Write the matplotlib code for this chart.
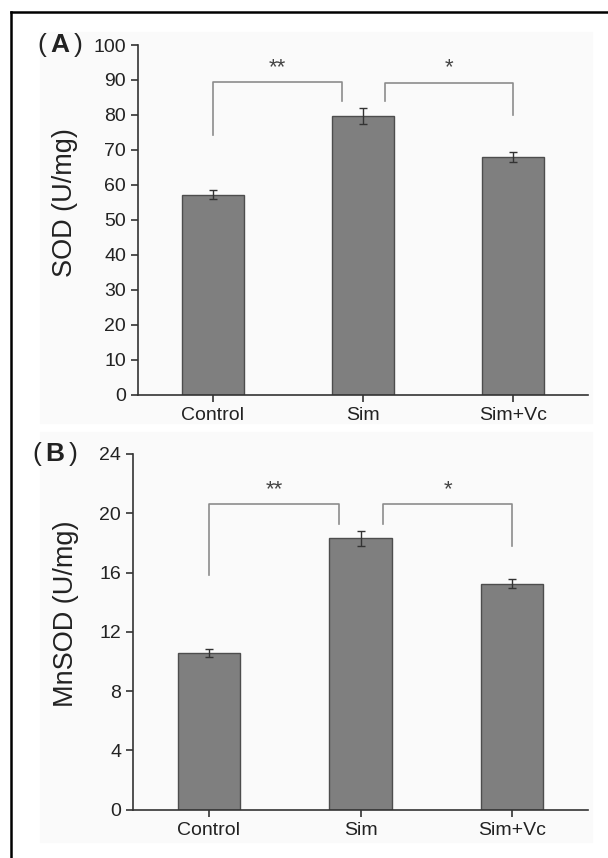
import matplotlib
matplotlib.use("Agg")
import matplotlib.pyplot as plt
from matplotlib.patches import Rectangle
from matplotlib.lines import Line2D

groups = ["Control", "Sim", "Sim+Vc"]

sod_mean = [57.2, 79.7, 67.9]
sod_err = [1.2, 2.2, 1.4]

mnsod_mean = [10.55, 18.3, 15.25]
mnsod_err = [0.26, 0.48, 0.29]

# significance brackets: (left group, right group, left foot, right foot, top, label)
sod_sig = [(0, 1, 74.3, 83.9, 89.4, "**"), (1, 2, 83.9, 80.0, 89.2, "*")]
mnsod_sig = [(0, 1, 15.8, 19.3, 20.6, "**"), (1, 2, 19.3, 17.8, 20.6, "*")]

plt.rcParams['font.family'] = ['Liberation Sans', 'DejaVu Sans']
plt.rcParams['mathtext.fontset'] = 'custom'
plt.rcParams['mathtext.rm'] = 'Liberation Sans'
plt.rcParams['mathtext.bf'] = 'Liberation Sans:bold'

W, H = 608, 858
fig = plt.figure(figsize=(W / 100, H / 100), dpi=100)

# faint panel backgrounds and the cropped frame
fig.patches.append(Rectangle((40 / W, 1 - 423 / H), 552 / W, 391 / H,
                             transform=fig.transFigure, color='#fafafa', zorder=-5))
fig.patches.append(Rectangle((40 / W, 1 - 842 / H), 552 / W, 410 / H,
                             transform=fig.transFigure, color='#fafafa', zorder=-5))
fig.lines.append(Line2D([10.5 / W, 1], [1 - 12 / H, 1 - 12 / H],
                        transform=fig.transFigure, color='black', lw=1.8))
fig.lines.append(Line2D([10.5 / W, 10.5 / W], [0, 1 - 12 / H],
                        transform=fig.transFigure, color='black', lw=1.8))

ax1 = fig.add_axes([137.7 / W, 1 - 394.5 / H, 450.3 / W, 349.5 / H])
ax2 = fig.add_axes([133 / W, 1 - 809.5 / H, 455 / W, 355.5 / H])


def draw_panel(ax, means, errs, sig, ymax, step, ylabel, tag, star_off, label_x, tag_x):
    ax.set_facecolor('none')
    x = range(len(groups))
    ax.bar(x, means, width=0.41, color='#7f7f7f', edgecolor='#4d4d4d', linewidth=1, zorder=2)
    ax.errorbar(x, means, yerr=errs, fmt='none', ecolor='#333333', elinewidth=1,
                capsize=3, capthick=1, zorder=3)
    for k, (i, j, yl, yr, top, lab) in enumerate(sig):
        # the two brackets meet at the middle bar but leave a gap there
        xi = i + (0.15 if k == 1 else 0)
        xj = j - (0.14 if k == 0 else 0)
        ax.plot([xi, xi, xj, xj], [yl, top, top, yr], color='#8c8c8c', lw=1.2,
                clip_on=False, zorder=1)
        ax.text((xi + xj) / 2, top + star_off, lab, ha='center', va='center',
                fontsize=16, color='#444444')
    ax.set_xlim(-0.5, 2.5)
    ax.set_ylim(0, ymax)
    ax.set_yticks(range(0, ymax + 1, step))
    ax.set_xticks(list(x))
    ax.set_xticklabels(groups)
    for s in ['top', 'right']:
        ax.spines[s].set_visible(False)
    for s in ['left', 'bottom']:
        ax.spines[s].set_color('#333333')
        ax.spines[s].set_linewidth(1.2)
    ax.tick_params(axis='both', labelsize=14, colors='#333333', labelcolor='#222222',
                   length=5, width=1.2)
    ax.tick_params(axis='x', pad=4)
    ax.set_ylabel(ylabel, fontsize=19.5, color='#222222', va='center')
    ax.yaxis.set_label_coords(label_x, 0.55)
    ax.text(tag_x, 1.0, r"($\,\mathbf{%s}\,$)" % tag, transform=ax.transAxes,
            ha='center', va='center', fontsize=19, color='#222222')


draw_panel(ax1, sod_mean, sod_err, sod_sig, 100, 10, "SOD (U/mg)", "A", 4.2, -0.161, -0.173)
draw_panel(ax2, mnsod_mean, mnsod_err, mnsod_sig, 24, 4, "MnSOD (U/mg)", "B", 1.0, -0.147, -0.171)

fig.savefig("out.png", dpi=100)
